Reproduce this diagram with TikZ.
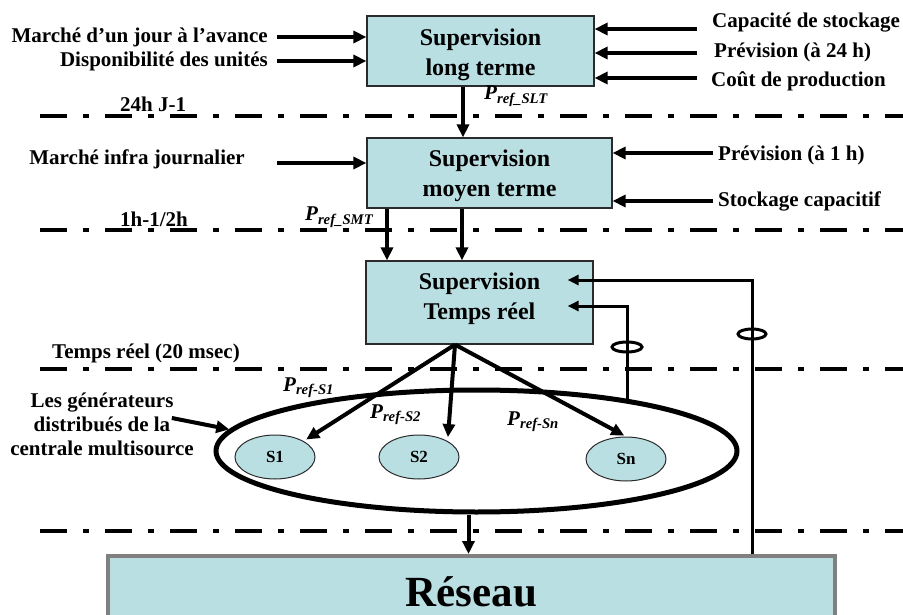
\documentclass[tikz,border=0pt]{standalone}
\usepackage{fontspec}
\setmainfont{Liberation Serif}
\usepackage{tikz}
\usetikzlibrary{arrows.meta,positioning,calc,shapes.geometric}
\definecolor{Cyan}{HTML}{B9DFE3}
\definecolor{Rim}{HTML}{808080}
\definecolor{Edge}{HTML}{2B2B2B}
\newcommand{\lblfont}{\fontsize{21}{24}\selectfont\bfseries}
\newcommand{\boxfont}{\fontsize{24}{30}\selectfont\bfseries}
\newcommand{\pref}[1]{\textbf{\textit{P\textsubscript{ref#1}}}}
\tikzset{
  sup/.style={
    draw=Edge, line width=1.2pt, fill=Cyan, align=center,
    inner sep=0pt, font=\boxfont
  },
  src/.style={ellipse, draw=Edge, line width=1pt, fill=Cyan,
    minimum width=80pt, minimum height=44pt, inner sep=0pt,
    font=\fontsize{17}{20}\selectfont\bfseries},
  lbl/.style={font=\lblfont, inner sep=0pt},
  arr/.style={-{Triangle[length=13pt,width=12pt]},line width=4pt},
  fb/.style={-{Triangle[length=11pt,width=10pt]},line width=3pt},
  tline/.style={line width=4pt,dash pattern=on 27pt off 16pt on 6pt off 16pt},
  sensor/.style={ellipse, draw, line width=3pt, minimum width=28pt,
    minimum height=10pt, inner sep=0pt}
}
\begin{document}
\begin{tikzpicture}[x=1pt,y=-1pt,node distance=9pt]
  \useasboundingbox (0,0) rectangle (903,615);
  \clip (0,0) rectangle (903,615);
  % echelles de temps
  \foreach \y in {116,230,369,531} \draw[tline] (40,\y) -- (910,\y);
  \node[lbl,anchor=base west] (t1) at (120,112) {24h J-1};
  \node[lbl,anchor=base west] (t2) at (120,226) {1h-1/2h};
  \node[lbl,anchor=base west] (t3) at (52,358) {Temps réel (20 msec)};

  % niveaux de supervision
  \node[sup,minimum width=227pt,minimum height=70pt] (slt) at (480.5,51) {\rule{0pt}{25pt}Supervision\\long terme};
  \node[sup,minimum width=245pt,minimum height=70pt] (smt) at (489.5,173) {\rule{0pt}{22pt}Supervision\\moyen terme};
  \node[sup,minimum width=227pt,minimum height=83pt] (str) at (479.5,302.5) {Supervision\\Temps réel\rule[-12pt]{0pt}{1pt}};

  % entrees
  \coordinate (inA) at (277,37);
  \coordinate (inB) at (277,61);
  \coordinate (inC) at (277,163);
  \node[lbl,left=of inA] (jour) {Marché d’un jour à l’avance};
  \node[lbl,left=of inB] (dispo) {Disponibilité des unités};
  \node[lbl,left=32pt of inC,yshift=4pt] (infra) {Marché infra journalier};
  \draw[arr] (inA) -- (inA -| slt.west);
  \draw[arr] (inB) -- (inB -| slt.west);
  \draw[arr] (inC) -- (inC -| smt.west);

  \coordinate (inD) at (697,29);
  \coordinate (inE) at (697,53);
  \coordinate (inF) at (697,78);
  \coordinate (inG) at (713,153);
  \coordinate (inH) at (713,201);
  \node[lbl,right=15pt of inD,yshift=6pt] (capa) {Capacité de stockage};
  \node[lbl,right=17pt of inE,yshift=1pt] (prev24) {Prévision (à 24 h)};
  \node[lbl,right=14pt of inF,yshift=-3pt] (cout) {Coût de production};
  \node[lbl,right=5pt of inG,yshift=-2pt] (prev1) {Prévision (à 1 h)};
  \node[lbl,right=5pt of inH] (stock) {Stockage capacitif};
  \draw[arr] (inD) -- (inD -| slt.east);
  \draw[arr] (inE) -- (inE -| slt.east);
  \draw[arr] (inF) -- (inF -| slt.east);
  \draw[arr] (inG) -- (inG -| smt.east);
  \draw[arr] (inH) -- (inH -| smt.east);

  % consignes
  \coordinate (d1) at ([xshift=-17.5pt]slt.south);
  \coordinate (d2) at ([xshift=-102.5pt]smt.south);
  \coordinate (d3) at ([xshift=-27.5pt]smt.south);
  \draw[arr] (d1) -- (d1 |- smt.north);
  \draw[arr] (d2) -- (d2 |- str.north);
  \draw[arr] (d3) -- (d3 |- str.north);
  \node[lbl,anchor=base west] (pslt) at (484,100) {\pref{\_SLT}};
  \node[lbl,anchor=base west] (psmt) at (305,221) {\pref{\_SMT}};

  % centrale multisource
  \node[ellipse,draw,line width=5pt,minimum width=521pt,minimum height=122pt] (gen) at (476.5,451) {};
  \node[src] (s1) at (275,457) {S1};
  \node[src] (s2) at (419,457) {S2};
  \node[src] (sn) at (626,459) {Sn};
  \coordinate (fan) at ([xshift=-24.5pt]str.south);
  \draw[arr,shorten >=3pt] (fan) -- (s1.north east);
  \draw[arr,shorten >=4pt] (fan) -- (s2.north east);
  \draw[arr,shorten >=2pt] (fan) -- (sn.north);
  \node[lbl,anchor=base west] (ps1) at (283,391) {\pref{-S1}};
  \node[lbl,anchor=base west] (ps2) at (370,418) {\pref{-S2}};
  \node[lbl,anchor=base west] (psn) at (507,425) {\pref{-Sn}};
  \node[lbl,align=center] (gdl) at (102,424) {Les générateurs\\distribués de la\\centrale multisource};
  \draw[arr] ([xshift=-22pt,yshift=6pt]gdl.east) -- (gen.175);

  % reseau et mesures
  \node[draw=Rim,line width=4pt,fill=Cyan,minimum width=727pt,minimum height=72pt,
    font=\fontsize{43}{50}\selectfont\bfseries] (res) at (471.5,592) {Réseau};
  \coordinate (d4) at ([xshift=-8pt]gen.south);
  \draw[arr] (d4) -- (d4 |- res.north);
  \coordinate (r1) at ([xshift=-26pt,yshift=22.5pt]str.east);
  \coordinate (r2) at ([xshift=-26pt,yshift=-3.5pt]str.east);
  \node[sensor] (ct1) at (752,334) {};
  \node[sensor,minimum width=30pt] (ct2) at (627,347) {};
  \draw[fb] (res.north -| ct1) |- (r1);
  \draw[fb] (ct2 |- gen.18.4) |- (r2);
\end{tikzpicture}
\end{document}
